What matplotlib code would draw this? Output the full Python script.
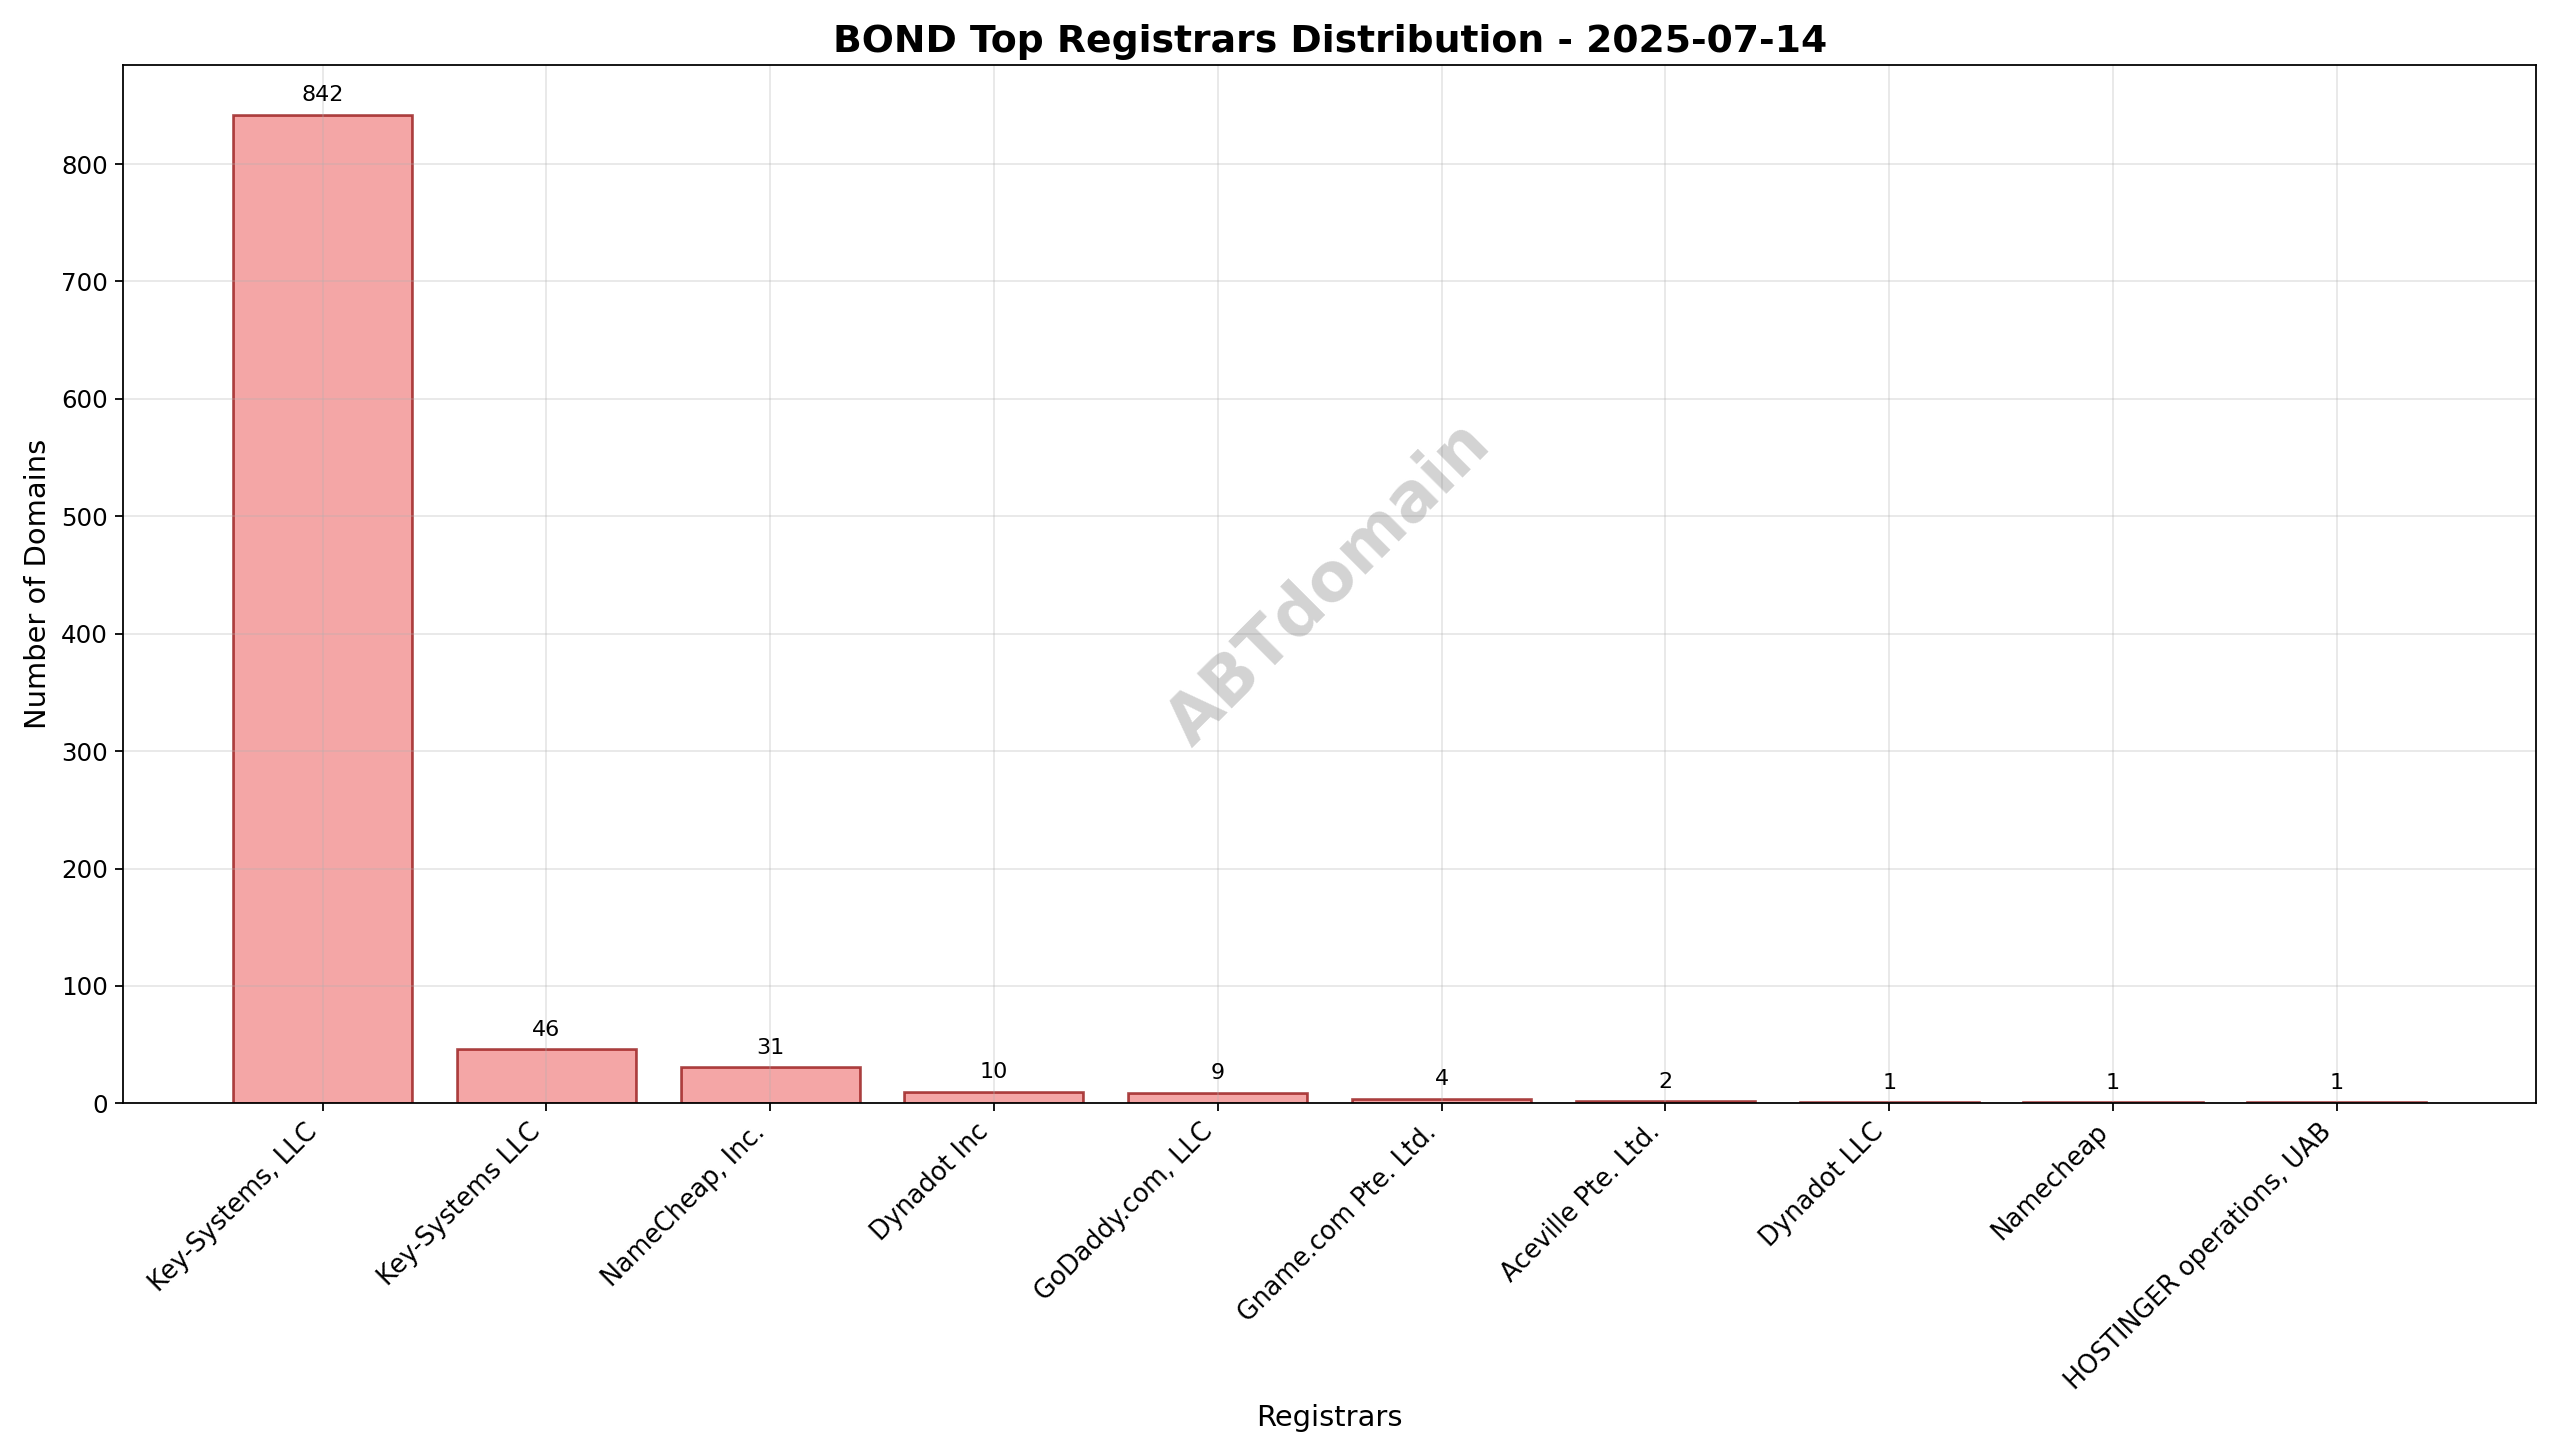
import matplotlib.pyplot as plt
import numpy as np

registrars = ["Key-Systems, LLC", "Key-Systems LLC", "NameCheap, Inc.", "Dynadot Inc",
              "GoDaddy.com, LLC", "Gname.com Pte. Ltd.", "Aceville Pte. Ltd.",
              "Dynadot LLC", "Namecheap", "HOSTINGER operations, UAB"]
counts = [842, 46, 31, 10, 9, 4, 2, 1, 1, 1]

fig, ax = plt.subplots(figsize=(16, 9.1), dpi=160)
x = np.arange(len(registrars))
bars = ax.bar(x, counts, color="lightcoral", alpha=0.7, edgecolor="darkred", linewidth=1.2)
for b, v in zip(bars, counts):
    ax.text(b.get_x() + b.get_width() / 2, v + 8, str(v), ha="center", va="bottom", fontsize=10)

ax.set_xticks(x)
ax.set_xticklabels(registrars, rotation=45, ha="right", fontsize=11.5)
ax.tick_params(axis="y", labelsize=11)
ax.set_xlabel("Registrars", fontsize=13)
ax.set_ylabel("Number of Domains", fontsize=13)
ax.set_title("BOND Top Registrars Distribution - 2025-07-14", fontsize=17, fontweight="bold")
ax.grid(True, alpha=0.3)
ax.text(0.5, 0.5, "ABTdomain", transform=ax.transAxes, fontsize=30, color="gray",
        alpha=0.35, fontweight="bold", rotation=45, ha="center", va="center")

fig.tight_layout()
fig.savefig("out.png", dpi=160)
